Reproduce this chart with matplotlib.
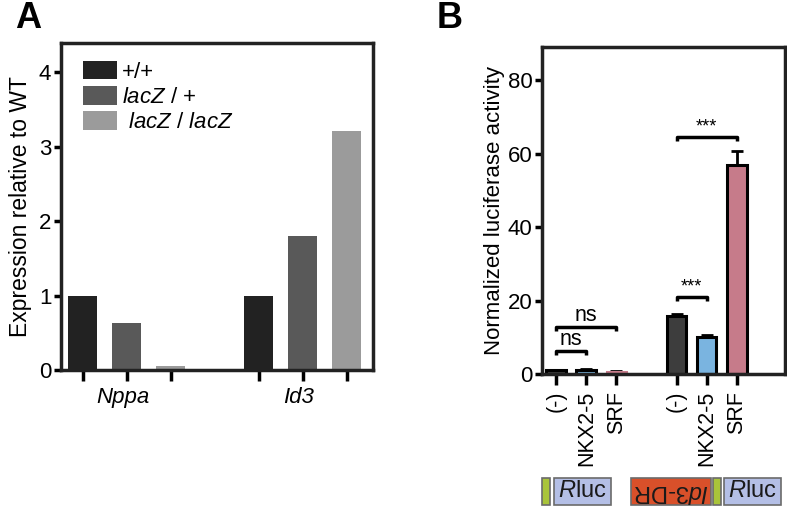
import matplotlib
matplotlib.use("Agg")
import matplotlib.pyplot as plt
from matplotlib.patches import Rectangle
import matplotlib.transforms as mtransforms

plt.rcParams["font.family"] = ["Liberation Sans", "DejaVu Sans"]
plt.rcParams["mathtext.fontset"] = "custom"
plt.rcParams["mathtext.rm"] = "Liberation Sans"
plt.rcParams["mathtext.it"] = "Liberation Sans:italic"

# panel A data
genes = ["Nppa", "Id3"]
genotypes = ["+/+", r"$\mathit{lacZ}$ / +", r" $\mathit{lacZ}$ / $\mathit{lacZ}$"]
expr_wt = [1.0, 1.0]
expr_het = [0.63, 1.80]
expr_hom = [0.06, 3.21]
a_colors = ["#222222", "#595959", "#9b9b9b"]

# panel B data
conditions = ["(-)", "NKX2-5", "SRF"]
luc_empty = [1.0, 1.1, 0.6]
luc_empty_err = [0.1, 0.15, 0.1]
luc_id3 = [15.8, 10.2, 57.0]
luc_id3_err = [0.4, 0.3, 3.7]
b_colors = ["#3d3d3d", "#7ab4e0", "#c67b8a"]

fig = plt.figure(figsize=(7.87, 5.07), dpi=100)

# ---------------- panel A ----------------
axA = fig.add_axes([61 / 787, 1 - 370 / 507, 312 / 787, 327 / 507])
series = [expr_wt, expr_het, expr_hom]
pos_all = []
for i, (vals, col, lab) in enumerate(zip(series, a_colors, genotypes)):
    xs = [g * 4 + i for g in range(len(genes))]
    pos_all += xs
    axA.bar(xs, vals, width=0.66, color=col, label=lab, zorder=2)
axA.set_xlim(-0.5, 6.6)
axA.set_ylim(0, 4.39)
axA.set_yticks([0, 1, 2, 3, 4])
axA.set_xticks(sorted(pos_all))
axA.set_xticklabels([])
transA = mtransforms.blended_transform_factory(axA.transData, axA.transAxes)
for g, name in enumerate(genes):
    axA.text(g * 4 + 0.9, -0.085, name, transform=transA, ha="center",
             va="center", fontstyle="italic", fontsize=16)
axA.tick_params(axis="x", direction="out", length=8, width=2.5)
axA.tick_params(axis="y", direction="out", length=5, width=2.5, labelsize=16, pad=2)
for s in axA.spines.values():
    s.set_linewidth(2.5)
    s.set_color("#222222")
axA.set_ylabel("Expression relative to WT", fontsize=16.5, labelpad=5)
axA.legend(loc="upper left", frameon=False, fontsize=16, handlelength=1.55,
           handleheight=0.9, handletextpad=0.2, labelspacing=0.15,
           borderaxespad=0.0, borderpad=0.0, bbox_to_anchor=(0.07, 0.945))

# ---------------- panel B ----------------
axB = fig.add_axes([542 / 787, 1 - 374 / 507, 243 / 787, 327 / 507])
xs1 = list(range(len(conditions)))
xs2 = [x + 4 for x in xs1]
edges1 = ["black", "black", b_colors[2]]
axB.bar(xs1, luc_empty, width=0.65, color=b_colors, edgecolor=edges1,
        linewidth=2.2, zorder=2)
axB.errorbar(xs1, luc_empty, yerr=[[0] * 3, luc_empty_err], fmt="none",
             ecolor="black", elinewidth=2, capsize=4.5, capthick=2, zorder=1)
axB.bar(xs2, luc_id3, width=0.65, color=b_colors, edgecolor="black",
        linewidth=2.2, zorder=2)
axB.errorbar(xs2, luc_id3, yerr=[[0] * 3, luc_id3_err], fmt="none",
             ecolor="black", elinewidth=2, capsize=4.5, capthick=2, zorder=1)
axB.set_xlim(-0.47, 7.6)
axB.set_ylim(0, 89)
axB.set_yticks([0, 20, 40, 60, 80])
axB.set_xticks(xs1 + xs2)
axB.set_xticklabels(conditions + conditions, rotation=90, fontsize=15.5)
axB.tick_params(axis="x", direction="out", length=8, width=2.5, pad=4)
axB.tick_params(axis="y", direction="out", length=5, width=2.5, labelsize=16, pad=2)
for s in axB.spines.values():
    s.set_linewidth(2.5)
    s.set_color("#222222")
axB.set_ylabel("Normalized luciferase activity", fontsize=16, labelpad=2)


def bracket(ax, x0, x1, y, text, fs):
    ax.plot([x0, x0, x1, x1], [y - 1.2, y, y, y - 1.2], color="black",
            lw=2.5, solid_capstyle="butt", zorder=3)
    ax.text((x0 + x1) / 2, y + 0.3, text, ha="center", va="bottom", fontsize=fs)


bracket(axB, 0, 1, 6.3, "ns", 15.5)
bracket(axB, 0, 2, 12.8, "ns", 15.5)
bracket(axB, 4, 5, 21.0, "***", 13)
bracket(axB, 4, 6, 64.5, "***", 13)

# construct diagrams below panel B
trans = mtransforms.blended_transform_factory(axB.transData, axB.transAxes)
y0, h = -0.40, 0.082
boxes = [
    (-0.47, -0.22, "#a9c43a", None, 0),
    (-0.07, 1.83, "#b4bfe6", r"$\mathit{R}$luc", 0),
    (2.5, 5.13, "#d9502a", r"$\mathit{Id3}$-DR", 180),
    (5.2, 5.47, "#a9c43a", None, 0),
    (5.57, 7.47, "#b4bfe6", r"$\mathit{R}$luc", 0),
]
for bx0, bx1, col, lab, rot in boxes:
    axB.add_patch(Rectangle((bx0, y0), bx1 - bx0, h, transform=trans,
                            facecolor=col, edgecolor="#6b6b6b", lw=1.2,
                            clip_on=False))
    if lab:
        axB.text((bx0 + bx1) / 2, y0 + h / 2, lab, transform=trans,
                 ha="center", va="center", fontsize=17, rotation=rot,
                 color="#1a1a1a")

fig.text(15 / 787, 1 - 28 / 507, "A", fontsize=26, fontweight="bold")
fig.text(437 / 787, 1 - 28 / 507, "B", fontsize=26, fontweight="bold")

fig.savefig("out.png", dpi=100)
